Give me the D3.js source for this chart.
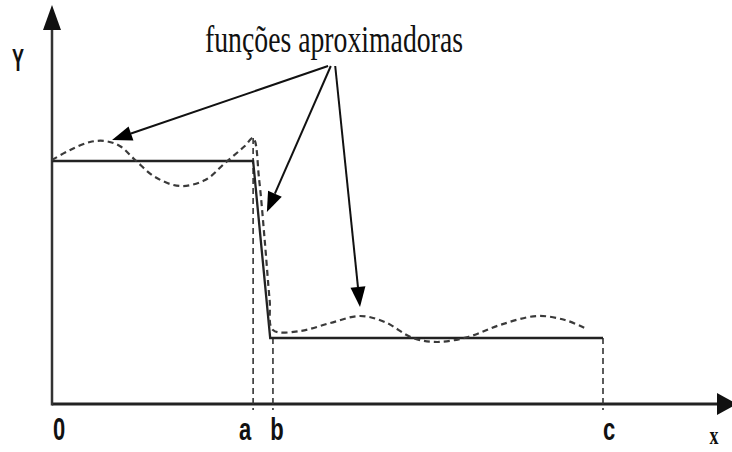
<!DOCTYPE html>
<html><head><meta charset="utf-8">
<script src="https://cdn.jsdelivr.net/npm/d3@7"></script>
<style>html,body{margin:0;padding:0;background:#fff;}svg{display:block;}</style>
</head><body>
<script>
// ---- data ----
const tickLabels = ["0", "a", "b", "c"];
const tickValues = [0, 36.5, 40.1, 100];
const stepX = [0, 36.5, 39.6, 100];
const stepY = [60.75, 60.75, 16.5, 16.5];
const approxX = [0, 3.3, 6.9, 9.6, 12.3, 15.1, 18.7, 23.2, 27.8, 31.4, 35.0, 36.5, 37.6, 38.6, 39.5, 40.1, 45, 50.5, 55.9, 60.4, 65.5, 69.9, 75.5, 81.3, 88, 93.1, 96.7];
const approxY = [61, 63.5, 65.5, 65.75, 64.5, 61, 56.75, 54.5, 56, 60.25, 64.5, 66.5, 56, 41, 26, 18.5, 18.25, 20.25, 22, 20.5, 16.5, 15.5, 16.75, 19.75, 22, 21, 19];
const annotationText = "funções aproximadoras";
const arrowFromX = [50.1, 50.6, 51.4];
const arrowFromY = [84.5, 84.5, 84.5];
const arrowToX = [10.9, 39.0, 55.9];
const arrowToY = [66, 48, 24.25];
const axisLabelX = "x";
const axisLabelY = "Y";

// ---- drawing ----
const W = 732, H = 452;
const svg = d3.select("body").append("svg").attr("width", W).attr("height", H);
const x = d3.scaleLinear().domain([0, 100]).range([52, 603]);
const y = d3.scaleLinear().domain([0, 100]).range([404, 4]);
const xEnd = x.invert(737);

// axes
svg.append("line").attr("x1", x(0)).attr("y1", y(0)).attr("x2", 720).attr("y2", y(0))
  .attr("stroke", "#222").attr("stroke-width", 3);
svg.append("line").attr("x1", x(0)).attr("y1", y(0) + 1.5).attr("x2", x(0)).attr("y2", 28)
  .attr("stroke", "#333").attr("stroke-width", 2.5);
svg.append("path").attr("d", `M${x(0)},5 L${x(0) - 9},30 L${x(0) + 9},30 Z`).attr("fill", "#111");
svg.append("path").attr("d", `M${x(xEnd)},${y(0)} L717,${y(0) - 11} L717,${y(0) + 11} Z`).attr("fill", "#111");

// dashed verticals
const vTops = [d3.max(approxY), stepY[2], stepY[3]];
[tickValues[1], tickValues[2], tickValues[3]].forEach((v, i) => {
  svg.append("line").attr("x1", x(v)).attr("x2", x(v))
    .attr("y1", y(vTops[i])).attr("y2", y(0) + 6)
    .attr("stroke", "#333").attr("stroke-width", 1.6).attr("stroke-dasharray", "6,4");
});

// solid step function
const stepData = stepX.map((v, i) => [v, stepY[i]]);
svg.append("path").datum(stepData)
  .attr("d", d3.line().x(d => x(d[0])).y(d => y(d[1])))
  .attr("fill", "none").attr("stroke", "#222").attr("stroke-width", 2.3);

// approximating dashed curve
const approxData = approxX.map((v, i) => [v, approxY[i]]);
svg.append("path").datum(approxData)
  .attr("d", d3.line().x(d => x(d[0])).y(d => y(d[1])).curve(d3.curveCatmullRom.alpha(0.5)))
  .attr("fill", "none").attr("stroke", "#3a3a3a").attr("stroke-width", 2.2).attr("stroke-dasharray", "6,4");

// annotation arrows
arrowFromX.forEach((fx, i) => {
  const x1 = x(fx), y1 = y(arrowFromY[i]), x2 = x(arrowToX[i]), y2 = y(arrowToY[i]);
  const ang = Math.atan2(y2 - y1, x2 - x1);
  const L = 20, hw = 7.5;
  const bx = x2 - L * Math.cos(ang), by = y2 - L * Math.sin(ang);
  svg.append("line").attr("x1", x1).attr("y1", y1).attr("x2", bx).attr("y2", by)
    .attr("stroke", "#111").attr("stroke-width", 2);
  const px = -Math.sin(ang) * hw, py = Math.cos(ang) * hw;
  svg.append("path").attr("d", `M${x2},${y2} L${bx + px},${by + py} L${bx - px},${by - py} Z`).attr("fill", "#000");
});

// annotation text
svg.append("text").attr("transform", "translate(205,52) scale(1,1.45)")
  .attr("font-family", "Liberation Serif, Times New Roman, serif").attr("font-size", 26)
  .attr("textLength", 258).attr("lengthAdjust", "spacingAndGlyphs")
  .attr("fill", "#111").text(annotationText);

// tick labels
tickLabels.forEach((t, i) => {
  const off = [7, -8, 4, 6][i];
  svg.append("text").attr("transform", `translate(${x(tickValues[i]) + off},440) scale(1,1.45)`)
    .attr("text-anchor", "middle").attr("font-family", "Liberation Sans, Arial, sans-serif")
    .attr("font-weight", "bold").attr("font-size", 22).attr("fill", "#111").text(t);
});

// axis titles
svg.append("text").attr("transform", "translate(18,71) scale(1,1.7)")
  .attr("text-anchor", "middle").attr("font-family", "Liberation Sans, Arial, sans-serif")
  .attr("font-weight", "bold").attr("font-size", 18).attr("fill", "#111").text(axisLabelY);
svg.append("text").attr("transform", "translate(714,444) scale(1,1.35)")
  .attr("text-anchor", "middle").attr("font-family", "Liberation Serif, Times New Roman, serif")
  .attr("font-weight", "bold").attr("font-size", 18).attr("fill", "#111").text(axisLabelX);
</script>
</body></html>
